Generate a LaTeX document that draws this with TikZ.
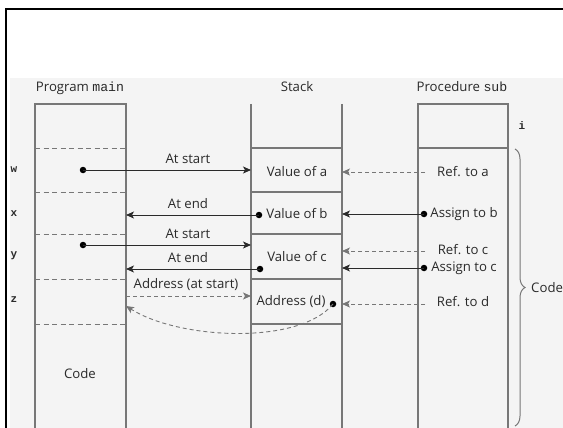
\documentclass[tikz,border=0pt]{standalone}
\usepackage{fontspec}
\setmainfont{Open Sans}
\setmonofont{Liberation Mono}
\usetikzlibrary{arrows.meta,decorations.pathreplacing}
\definecolor{ink}{HTML}{2A2A2A}
\definecolor{rule}{HTML}{777777}
\definecolor{paper}{HTML}{F4F4F4}
\tikzset{
  lbl/.style={text=ink, font=\fontsize{13.2}{15}\selectfont, inner sep=0pt},
  ttl/.style={text=ink, font=\fontsize{11}{14}\selectfont\ttfamily\bfseries, inner sep=0pt},
  frame/.style={draw=rule, line width=1.1pt},
  sep/.style={draw=rule, line width=1pt, dash pattern=on 5pt off 3.5pt},
  link/.style={draw=ink, line width=0.9pt, -{Stealth[length=8pt,width=7pt,inset=2pt]}},
  dlink/.style={link, draw=rule, dash pattern=on 4pt off 3pt},
  dot/.style={circle, fill=black, inner sep=0pt, minimum size=6.5pt},
}
\begin{document}
\begin{tikzpicture}[x=1pt,y=-1pt]
\useasboundingbox (0,0) rectangle (563,428);
\fill[white] (0,0) rectangle (563,428);
\fill[paper] (10,78) rectangle (563,428);
\draw[line width=2.2pt] (6,428) -- (6,9) -- (563,9);

% the three columns
\draw[frame] (35,428) -- (35,104) -- (126,104) -- (126,428);
\draw[frame] (251,104) -- (251,428) (342,104) -- (342,428);
\draw[frame] (418,428) -- (418,104) -- (508,104) -- (508,428);
\draw[frame] (418,148) -- (508,148);
\foreach \y in {148,192,234,279,324} {
  \draw[sep] (35,\y) -- (126,\y);
  \draw[frame] (251,\y) -- (342,\y);
}

% headings
\node[lbl] (hmain) at (80,88) {Program \texttt{main}};
\node[lbl] (hstack) at (297,87) {Stack};
\node[lbl] (hsub) at (462,87) {Procedure \texttt{sub}};

% variable names
\node[ttl] (vw) at (14,170) {w};
\node[ttl] (vx) at (14,214) {x};
\node[ttl] (vy) at (14,256) {y};
\node[ttl] (vz) at (14,300) {z};
\node[ttl] (vi) at (522,126) {i};

% cell contents
\node[lbl] (code1) at (80,374) {Code};
\node[lbl] (sa) at (297,172) {Value of a};
\node[lbl] (sb) at (297,214) {Value of b};
\node[lbl] (sc) at (297,257) {Value of c};
\node[lbl] (sd) at (291,302) {Address (d)};
\node[lbl] (ra) at (463,172) {Ref. to a};
\node[lbl] (ab) at (464,214) {Assign to b};
\node[lbl] (rc) at (463,250) {Ref. to c};
\node[lbl] (ac) at (464,268) {Assign to c};
\node[lbl] (rd) at (463,302) {Ref. to d};

% connector labels
\node[lbl] (l1) at (188,159) {At start};
\node[lbl] (l2) at (188,204) {At end};
\node[lbl] (l3) at (188,234) {At start};
\node[lbl] (l4) at (188,258) {At end};
\node[lbl] (l5) at (186,285) {Address (at start)};

% dots and edge points
\node[dot] (dw) at (83,170) {};
\node[dot] (dy) at (83,245) {};
\node[dot] (db) at (259,215) {};
\node[dot] (dc) at (260,269) {};
\node[dot] (dd) at (333,304) {};
\node[dot] (dab) at (424,214) {};
\node[dot] (dac) at (424,268) {};
\coordinate (sLw) at (251,170);
\coordinate (sLy) at (251,245);
\coordinate (sLz) at (251,296);
\coordinate (mRx) at (126,215);
\coordinate (mRy) at (126,269);
\coordinate (mRz) at (126,296);
\coordinate (mRd) at (126,306);
\coordinate (sRa) at (342,172);
\coordinate (sRb) at (342,214);
\coordinate (sRc) at (342,251);
\coordinate (sRc2) at (342,268);
\coordinate (sRd) at (342,304);
\coordinate (pa) at (425,172);
\coordinate (pc) at (425,251);
\coordinate (pd) at (425,304);

% connectors
\draw[link] (dw.center) -- (sLw);
\draw[link] (db.center) -- (mRx);
\draw[link] (dy.center) -- (sLy);
\draw[link] (dc.center) -- (mRy);
\draw[dlink] (mRz) -- (sLz);
\draw[dlink] (dd.center) .. controls (300,345) and (180,340) .. (mRd);
\draw[dlink] (pa) -- (sRa);
\draw[link] (dab.center) -- (sRb);
\draw[dlink] (pc) -- (sRc);
\draw[link] (dac.center) -- (sRc2);
\draw[dlink] (pd) -- (sRd);

% brace grouping the code part of sub
\draw[rule, line width=1pt, decorate, decoration={brace, amplitude=10pt}] (515,149) -- (515,426);
\node[lbl, anchor=west] (code2) at (531,288) {Code};
\end{tikzpicture}
\end{document}
